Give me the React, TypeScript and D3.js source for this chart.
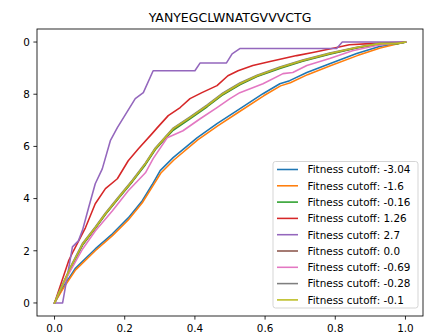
import React from "react";
import * as d3 from "d3";

const title = "YANYEGCLWNATGVVVCTG";
const xTicks = [0, 0.2, 0.4, 0.6, 0.8, 1.0];
const xTickLabels = ["0.0", "0.2", "0.4", "0.6", "0.8", "1.0"];
const yTicks = [0, 0.2, 0.4, 0.6, 0.8, 1.0];
const yTickLabels = ["0", "2", "4", "6", "8", "0"];

const seriesNames = ["-3.04", "-1.6", "-0.16", "1.26", "2.7", "0.0", "-0.69", "-0.28", "-0.1"];
const seriesColors = ["#1f77b4", "#ff7f0e", "#2ca02c", "#d62728", "#9467bd", "#8c564b", "#e377c2", "#7f7f7f", "#bcbd22"];

const blue: [number, number][] = [[0,0],[0.023,0.058],[0.06,0.134],[0.116,0.207],[0.165,0.265],[0.21,0.326],[0.25,0.392],[0.278,0.453],[0.301,0.507],[0.338,0.557],[0.406,0.633],[0.463,0.687],[0.52,0.737],[0.594,0.802],[0.642,0.84],[0.67,0.852],[0.719,0.883],[0.784,0.917],[0.861,0.956],[0.926,0.983],[1,1]];
const orange: [number, number][] = [[0,0],[0.023,0.052],[0.06,0.127],[0.116,0.2],[0.165,0.258],[0.21,0.318],[0.25,0.384],[0.278,0.444],[0.303,0.498],[0.34,0.548],[0.408,0.625],[0.465,0.679],[0.522,0.729],[0.596,0.794],[0.644,0.832],[0.672,0.844],[0.721,0.875],[0.786,0.909],[0.863,0.948],[0.928,0.977],[1,1]];
const green: [number, number][] = [[0,0],[0.011,0.032],[0.045,0.131],[0.08,0.222],[0.116,0.285],[0.145,0.339],[0.182,0.4],[0.222,0.465],[0.259,0.53],[0.287,0.587],[0.31,0.622],[0.338,0.662],[0.386,0.706],[0.435,0.752],[0.48,0.798],[0.528,0.836],[0.577,0.868],[0.642,0.899],[0.707,0.926],[0.784,0.953],[0.861,0.977],[0.926,0.992],[0.974,0.993],[1,1]];
const red: [number, number][] = [[0,0],[0.04,0.161],[0.054,0.2],[0.088,0.288],[0.116,0.38],[0.145,0.438],[0.179,0.476],[0.21,0.545],[0.239,0.591],[0.278,0.649],[0.293,0.672],[0.324,0.718],[0.358,0.749],[0.386,0.783],[0.42,0.806],[0.463,0.833],[0.494,0.871],[0.523,0.89],[0.565,0.91],[0.614,0.925],[0.69,0.948],[0.736,0.96],[0.804,0.979],[0.84,0.99],[0.898,0.994],[1,1]];
const purple: [number, number][] = [[0,0],[0.023,0],[0.051,0.215],[0.068,0.238],[0.08,0.28],[0.097,0.365],[0.116,0.457],[0.136,0.514],[0.159,0.622],[0.179,0.672],[0.23,0.783],[0.253,0.806],[0.281,0.89],[0.4,0.89],[0.415,0.92],[0.49,0.92],[0.506,0.955],[0.528,0.975],[0.804,0.975],[0.82,1],[1,1]];
const brown: [number, number][] = [[0,0],[0.011,0.034],[0.045,0.133],[0.08,0.225],[0.116,0.287],[0.145,0.341],[0.182,0.402],[0.222,0.467],[0.259,0.533],[0.287,0.59],[0.31,0.625],[0.338,0.666],[0.386,0.709],[0.435,0.755],[0.48,0.801],[0.528,0.839],[0.577,0.87],[0.642,0.901],[0.707,0.928],[0.784,0.955],[0.861,0.978],[0.926,0.993],[0.974,0.994],[1,1]];
const pink: [number, number][] = [[0,0],[0.02,0.06],[0.045,0.123],[0.08,0.207],[0.116,0.276],[0.165,0.353],[0.21,0.43],[0.259,0.499],[0.281,0.553],[0.321,0.633],[0.366,0.66],[0.415,0.706],[0.463,0.749],[0.5,0.783],[0.528,0.806],[0.594,0.84],[0.651,0.879],[0.679,0.883],[0.719,0.91],[0.784,0.937],[0.849,0.967],[0.918,0.987],[1,1]];
const grey: [number, number][] = [[0,0],[0.011,0.037],[0.045,0.137],[0.08,0.229],[0.116,0.291],[0.145,0.345],[0.182,0.406],[0.222,0.471],[0.259,0.537],[0.287,0.594],[0.31,0.628],[0.338,0.67],[0.386,0.713],[0.435,0.759],[0.48,0.805],[0.528,0.843],[0.577,0.873],[0.642,0.904],[0.707,0.931],[0.784,0.958],[0.861,0.98],[0.926,0.995],[0.974,0.995],[1,1]];
const olive: [number, number][] = [[0,0],[0.011,0.035],[0.045,0.134],[0.08,0.226],[0.116,0.288],[0.145,0.342],[0.182,0.403],[0.222,0.468],[0.259,0.534],[0.287,0.591],[0.31,0.626],[0.338,0.668],[0.386,0.71],[0.435,0.756],[0.48,0.802],[0.528,0.84],[0.577,0.871],[0.642,0.902],[0.707,0.929],[0.784,0.956],[0.861,0.979],[0.926,0.994],[0.974,0.994],[1,1]];

const seriesData = [blue, orange, green, red, purple, brown, pink, grey, olive];

const W = 433, H = 336;
const plot = { left: 37, right: 423, top: 29, bottom: 316 };
const font = "DejaVu Sans, sans-serif";

export default function App() {
  const x = d3.scaleLinear().domain([-0.05, 1.05]).range([plot.left, plot.right]);
  const y = d3.scaleLinear().domain([-0.05, 1.05]).range([plot.bottom, plot.top]);
  const line = d3.line<[number, number]>().x(d => x(d[0])).y(d => y(d[1]));
  const legend = { x: 273, y: 161.5, w: 145, h: 146.5, row0: 169.5, step: 16.3 };
  return (
    <svg width={W} height={H} style={{ position: "absolute", left: 0, top: 0 }} fontFamily={font}>
      <rect width={W} height={H} fill="#fff" />
      <text x={(plot.left + plot.right) / 2} y={21.5} textAnchor="middle" fontSize={12.5} fill="#000">{title}</text>
      <g>
        {seriesData.map((s, i) => (
          <path key={i} d={line(s) || ""} fill="none" stroke={seriesColors[i]} strokeWidth={1.56} strokeLinejoin="round" strokeLinecap="square" />
        ))}
      </g>
      <rect x={plot.left} y={plot.top} width={plot.right - plot.left} height={plot.bottom - plot.top} fill="none" stroke="#000" strokeWidth={0.83} />
      {xTicks.map((t, i) => (
        <g key={i}>
          <line x1={x(t)} x2={x(t)} y1={plot.bottom} y2={plot.bottom + 3.6} stroke="#000" strokeWidth={0.83} />
          <text x={x(t)} y={plot.bottom + 15.5} textAnchor="middle" fontSize={10.4} fill="#000">{xTickLabels[i]}</text>
        </g>
      ))}
      {yTicks.map((t, i) => (
        <g key={i}>
          <line x1={plot.left} x2={plot.left - 3.6} y1={y(t)} y2={y(t)} stroke="#000" strokeWidth={0.83} />
          <text x={plot.left - 7.2} y={y(t) + 3.8} textAnchor="end" fontSize={10.4} fill="#000">{yTickLabels[i]}</text>
        </g>
      ))}
      <rect x={legend.x} y={legend.y} width={legend.w} height={legend.h} rx={2.5} fill="#fff" fillOpacity={0.8} stroke="#ccc" strokeWidth={0.83} />
      {seriesNames.map((n, i) => {
        const ry = legend.row0 + i * legend.step;
        return (
          <g key={i}>
            <line x1={277} x2={298} y1={ry} y2={ry} stroke={seriesColors[i]} strokeWidth={1.56} />
            <text x={307.5} y={ry + 3.8} fontSize={10.4} fill="#000">{"Fitness cutoff: " + n}</text>
          </g>
        );
      })}
    </svg>
  );
}
